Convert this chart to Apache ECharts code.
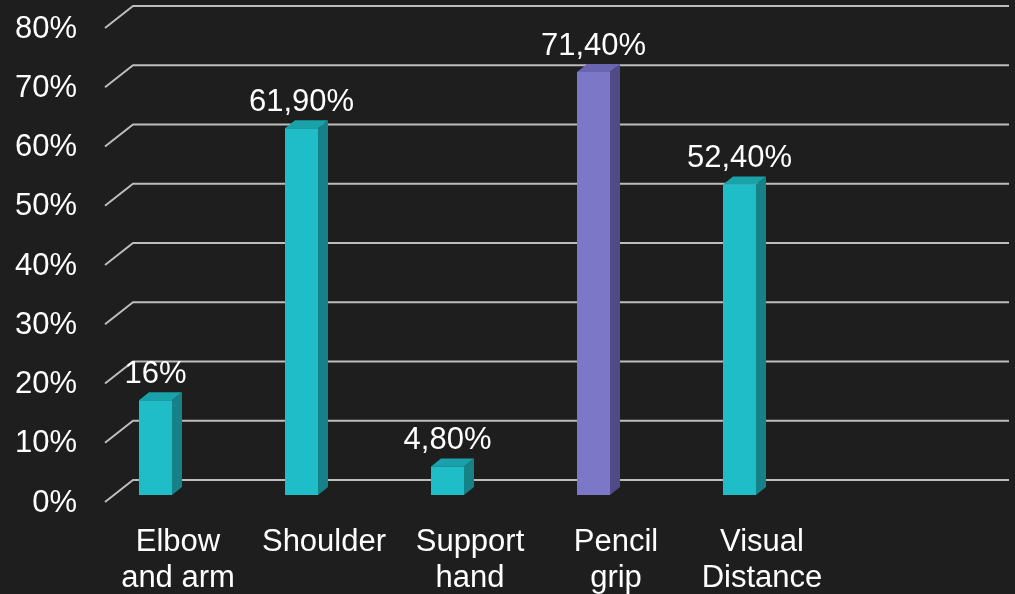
<!DOCTYPE html>
<html>
<head>
<meta charset="utf-8">
<script src="https://cdn.jsdelivr.net/npm/echarts@6/dist/echarts.min.js"></script>
<style>
html,body{margin:0;padding:0;background:#1e1e1e;}
#chart{width:1015px;height:594px;}
</style>
</head>
<body>
<div id="chart"></div>
<script>
// ---- data ----
const categories = ['Elbow\nand arm', 'Shoulder', 'Support\nhand', 'Pencil\ngrip', 'Visual\nDistance', ''];
const values = [16, 61.9, 4.8, 71.4, 52.4];
const valueLabels = ['16%', '61,90%', '4,80%', '71,40%', '52,40%'];
const yTicks = [0, 10, 20, 30, 40, 50, 60, 70, 80];

// ---- styles ----
const FONT = '"Liberation Sans", Arial, sans-serif';
const FS = 31;
const wallDepth = [28, -22];
const barDepth = [10, -8];
const barShift = [-22.5, -7];
const barWidth = 33;
const teal = { front: '#1fbdc8', side: '#168287', top: '#1aa2aa' };
const purple = { front: '#7c77c6', side: '#4f4b86', top: '#6a65b0' };
const highlightIndex = 3;

const chart = echarts.init(document.getElementById('chart'));

chart.setOption({
  backgroundColor: '#1e1e1e',
  animation: false,
  grid: { left: 105, right: 34, top: 28, bottom: 92, containLabel: false, outerBoundsMode: 'none' },
  xAxis: {
    type: 'category',
    data: categories,
    axisLine: { show: false },
    axisTick: { show: false },
    axisLabel: {
      color: '#ffffff', fontSize: FS, fontFamily: FONT, lineHeight: 36,
      margin: 22, interval: 0, align: 'center'
    }
  },
  yAxis: {
    type: 'value', min: 0, max: 80, interval: 10,
    axisLine: { show: false },
    axisTick: { show: false },
    splitLine: { show: false },
    axisLabel: { show: false }
  },
  series: [
    {
      type: 'custom',
      z: 1,
      silent: true,
      data: yTicks.map(t => [0, t]),
      renderItem: function (params, api) {
        const t = api.value(1);
        const p = api.coord([0, t]);
        const bw = api.size([1, 0])[0];
        const pr = api.coord([categories.length - 1, t]);
        const xf = p[0] - bw / 2;
        const xr = pr[0] + bw / 2 + wallDepth[0];
        const y = p[1];
        return {
          type: 'group',
          children: [
            {
              type: 'polyline',
              shape: { points: [[xf, y], [xf + wallDepth[0], y + wallDepth[1]], [xr, y + wallDepth[1]]] },
              style: { stroke: '#bdbdbd', lineWidth: 2, fill: null }
            },
            {
              type: 'text',
              x: xf - 28, y: y + 1,
              style: {
                text: t + '%', fill: '#ffffff', fontSize: FS, fontFamily: FONT,
                align: 'right', verticalAlign: 'middle'
              }
            }
          ]
        };
      }
    },
    {
      type: 'custom',
      z: 2,
      data: values.map((v, i) => [i, v]),
      renderItem: function (params, api) {
        const i = api.value(0);
        const v = api.value(1);
        const p0 = api.coord([i, 0]);
        const p1 = api.coord([i, v]);
        const c = i === highlightIndex ? purple : teal;
        const xl = p0[0] + barShift[0] - barWidth / 2;
        const xr = xl + barWidth;
        const yb = p0[1] + barShift[1];
        const yt = p1[1] + barShift[1];
        const dx = barDepth[0], dy = barDepth[1];
        return {
          type: 'group',
          children: [
            { type: 'polygon', shape: { points: [[xr, yb], [xr + dx, yb + dy], [xr + dx, yt + dy], [xr, yt]] }, style: { fill: c.side } },
            { type: 'polygon', shape: { points: [[xl, yt], [xr, yt], [xr + dx, yt + dy], [xl + dx, yt + dy]] }, style: { fill: c.top } },
            { type: 'rect', shape: { x: xl, y: yt, width: barWidth, height: yb - yt }, style: { fill: c.front } },
            {
              type: 'text',
              x: (xl + xr) / 2, y: yt - 26,
              style: {
                text: valueLabels[params.dataIndex], fill: '#ffffff', fontSize: FS, fontFamily: FONT,
                align: 'center', verticalAlign: 'middle'
              }
            }
          ]
        };
      }
    }
  ]
});
</script>
</body>
</html>
